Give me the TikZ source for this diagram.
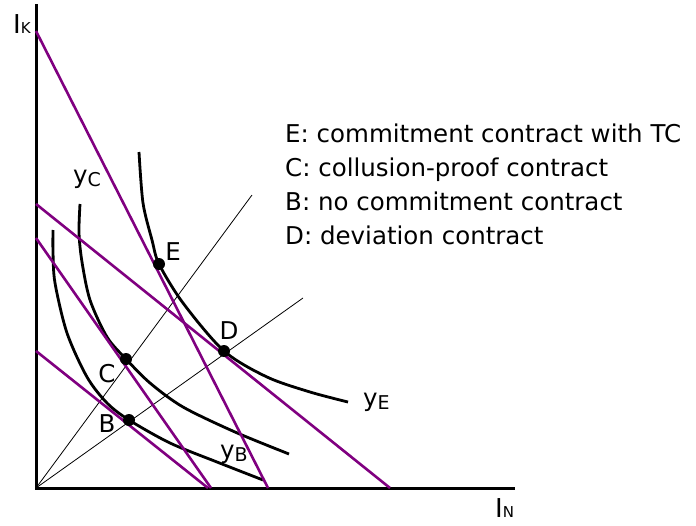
\documentclass[tikz,border=0pt]{standalone}
\usepackage{fontspec}
\setmainfont{DejaVu Sans}
\definecolor{budget}{RGB}{128,0,128}
\newcommand\mysubs[1]{\raisebox{-3pt}{\fontsize{19}{19}\selectfont #1}}
\newcommand\axsubs[1]{{\fontsize{15}{15}\selectfont #1}}
\begin{document}
\begin{tikzpicture}[x=1pt,y=-1pt,
  axis/.style={line width=3pt},
  budgetline/.style={draw=budget,line width=2.6pt},
  isoq/.style={line width=2.8pt},
  ray/.style={line width=0.8pt},
  pt/.style={circle,fill=black,inner sep=0pt,minimum size=12pt},
  lbl/.style={font=\fontsize{24.5}{29}\selectfont,inner sep=0pt},
  axlbl/.style={font=\fontsize{26}{30}\selectfont,inner sep=0pt,anchor=base west},
  ]
\useasboundingbox (0,0) rectangle (696,525);

% axes
\coordinate (O) at (36,488);
\coordinate (ytop) at (36,4);
\coordinate (xend) at (515,488);
\draw[axis] (ytop) -- (O) -- (xend);
\node[axlbl] (IK) at (13,33) {I\axsubs{K}};
\node[axlbl] (IN) at (495,517) {I\axsubs{N}};

% points
\coordinate (E) at (159,264);
\coordinate (D) at (224,351);
\coordinate (C) at (126,359);
\coordinate (B) at (129,420);

% rays
\coordinate (r1) at (252,195);
\coordinate (r2) at (303,298);
\draw[ray] (O) -- (r1);
\draw[ray] (O) -- (r2);

% isoquants
\draw[isoq] plot[smooth] coordinates {(139,152) (143,203) (152,240) (E) (183,303) (D) (267,377) (310,392) (348,402)};
\draw[isoq] plot[smooth] coordinates {(80,204) (79,233) (82,262) (90,300) (107,337) (C) (150,383) (183,407) (235,432) (289,454)};
\draw[isoq] plot[smooth] coordinates {(53,230) (53,252) (55,283) (67,333) (87,377) (107,403) (B) (170,443) (217,462) (263,480)};

% budget lines
\coordinate (a1) at (36,31);   \coordinate (b1) at (268,488);
\coordinate (a2) at (36,204);  \coordinate (b2) at (390,488);
\coordinate (a3) at (36,238);  \coordinate (b3) at (211,488);
\coordinate (a4) at (36,351);  \coordinate (b4) at (208,488);
\draw[budgetline] (a1) -- (b1);
\draw[budgetline] (a2) -- (b2);
\draw[budgetline] (a3) -- (b3);
\draw[budgetline] (a4) -- (b4);

% dots
\node[pt] (dE) at (E) {};
\node[pt] (dD) at (D) {};
\node[pt] (dC) at (C) {};
\node[pt] (dB) at (B) {};

% point labels
\node[lbl] (lE) at (173,252) {E};
\node[lbl] (lD) at (229,331) {D};
\node[lbl] (lC) at (107,374) {C};
\node[lbl] (lB) at (107,424) {B};

% curve labels
\node[lbl,anchor=base west] (yC) at (73,183) {y\mysubs{C}};
\node[lbl,anchor=base west] (yE) at (363,406) {y\mysubs{E}};
\node[lbl,anchor=base west] (yB) at (220,458) {y\mysubs{B}};

% legend
\node[lbl,anchor=base west] (t1) at (285,142) {E: commitment contract with TC};
\node[lbl,anchor=base west] (t2) at (285,176) {C: collusion-proof contract};
\node[lbl,anchor=base west] (t3) at (285,210) {B: no commitment contract};
\node[lbl,anchor=base west] (t4) at (285,244) {D: deviation contract};
\end{tikzpicture}
\end{document}
